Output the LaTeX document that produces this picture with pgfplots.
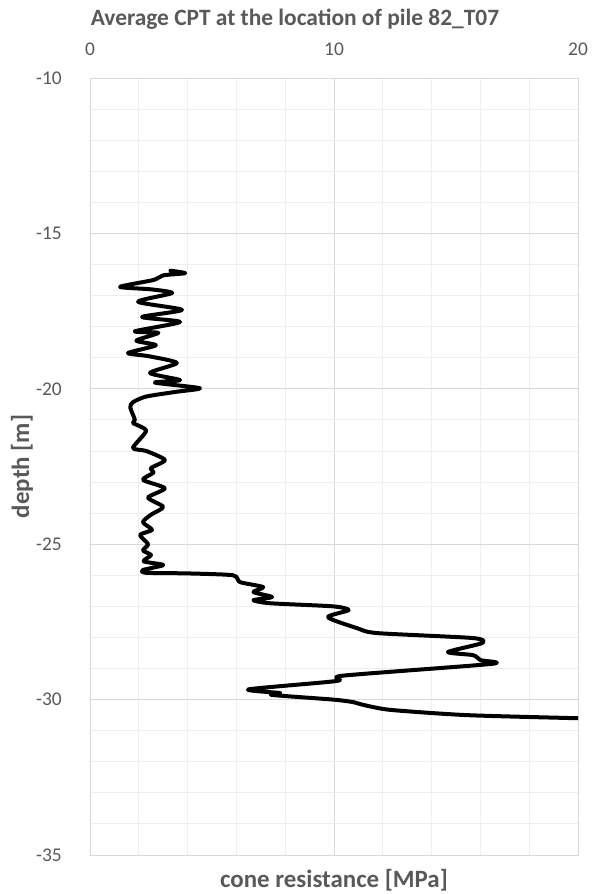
\documentclass[border=0pt]{standalone}
\usepackage{pgfplots}
\pgfplotsset{compat=1.18}
\usepackage{fontspec}
\setmainfont{Carlito}
\definecolor{txt}{HTML}{595959}
\definecolor{majg}{HTML}{D9D9D9}
\definecolor{ming}{HTML}{EEEEEE}
\begin{document}
\begin{tikzpicture}
\begin{axis}[
  at={(0,0)}, anchor=south west,
  scale only axis, width=488bp, height=777bp,
  xmin=0, xmax=20, ymin=-35, ymax=-10,
  xtick={0,10,20}, ytick={-35,-30,...,-10},
  minor x tick num=4, minor y tick num=4,
  grid=both,
  major grid style={color=majg, line width=0.9bp},
  minor grid style={color=ming, line width=0.9bp},
  axis line style={color=majg, line width=0.9bp},
  major tick length=0pt, minor tick length=0pt,
  xticklabel pos=right,
  /pgf/number format/assume math mode=true,
  tick label style={font=\fontsize{19.5}{21}\selectfont, text=txt},
  xticklabel style={anchor=south, inner sep=0pt, yshift=22bp},
  yticklabel style={anchor=east, inner sep=0pt, xshift=-28bp},
  title={Average CPT at the location of pile 82\_T07},
  title style={at={(axis description cs:0.42,1.068)}, anchor=center, font=\fontsize{23.5}{25}\selectfont\bfseries, text=txt},
  xlabel={cone resistance [MPa]},
  xlabel style={at={(axis description cs:0.5,-0.0322)}, anchor=center, font=\fontsize{25}{27}\selectfont\bfseries, text=txt},
  ylabel={depth [m]},
  ylabel style={at={(axis description cs:-0.1393,0.5)}, anchor=center, rotate=0, font=\fontsize{25}{27}\selectfont\bfseries, text=txt},
]
\addplot[black, line width=4bp, line join=round, line cap=round, smooth, tension=0.4] coordinates {
(3.3,-16.2) (3.9,-16.28) (3.0,-16.35) (2.6,-16.5) (1.23,-16.72) (2.5,-16.8)
(3.36,-16.92) (1.97,-17.2) (3.77,-17.46) (2.13,-17.69) (3.69,-17.85)
(1.84,-18.15) (2.8,-18.2) (1.9,-18.45) (2.7,-18.6) (1.56,-18.85) (2.4,-18.95)
(3.56,-19.17) (2.46,-19.49) (3.69,-19.72) (2.66,-19.8) (4.5,-19.98)
(3.5,-20.1) (2.3,-20.25) (1.76,-20.43) (1.65,-20.6) (1.84,-21.0) (1.76,-21.1)
(2.3,-21.35) (1.76,-21.9) (2.3,-22.0) (3.07,-22.29) (2.5,-22.55) (2.6,-22.7)
(2.17,-22.93) (3.07,-23.2) (2.38,-23.5) (3.0,-23.8) (2.5,-24.05) (2.17,-24.29)
(2.54,-24.54) (2.05,-24.7) (2.38,-25.0) (2.17,-25.2) (2.5,-25.35) (2.2,-25.55)
(3.0,-25.67) (2.17,-25.83) (2.3,-25.92) (4.0,-25.94) (5.86,-26.0) (6.15,-26.22)
(7.1,-26.38) (6.7,-26.54) (7.46,-26.7) (6.7,-26.8) (7.38,-26.9) (9.96,-27.0)
(10.6,-27.12) (9.75,-27.35) (10.94,-27.7) (11.76,-27.86) (15.7,-28.02)
(16.07,-28.18) (14.67,-28.47) (15.7,-28.57) (16.0,-28.73) (16.47,-28.85)
(10.37,-29.23) (10.12,-29.4) (6.5,-29.67) (7.79,-29.79) (7.46,-29.85)
(9.96,-30.0) (10.78,-30.08) (11.2,-30.17) (12.3,-30.33) (15.45,-30.5)
(20.0,-30.6) (21.0,-30.62)
};
\end{axis}
\pgfresetboundingbox
\path[use as bounding box] (-90bp,-39bp) rectangle (503bp,855bp);
\end{tikzpicture}
\end{document}
